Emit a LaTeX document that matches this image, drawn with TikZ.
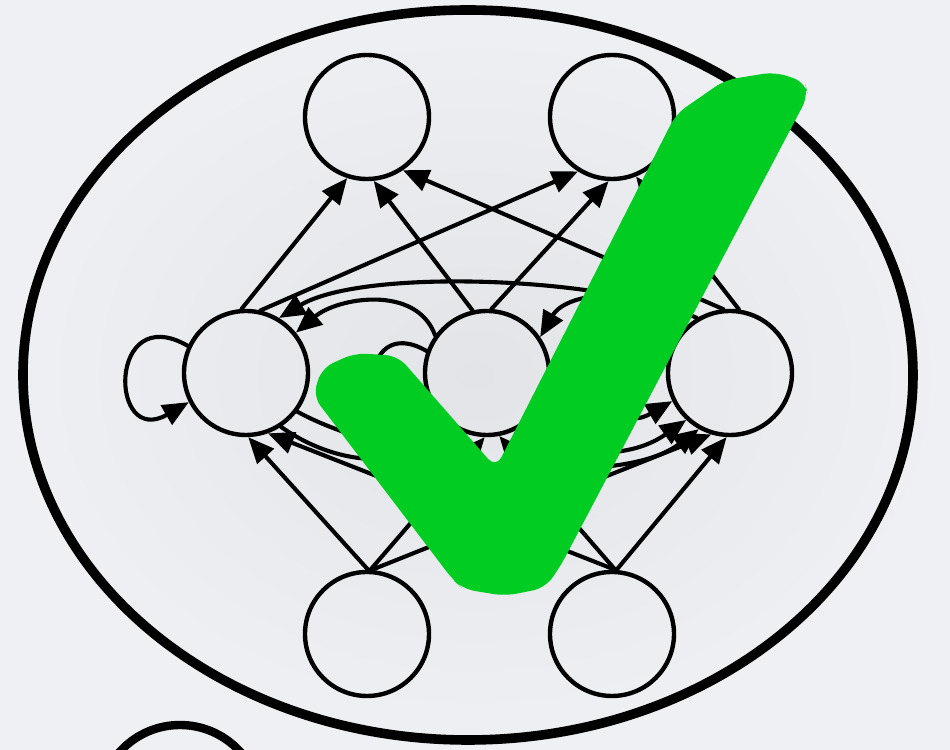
\documentclass[tikz,border=0pt]{standalone}
\usetikzlibrary{arrows.meta}
\definecolor{tickgreen}{RGB}{0,204,34}
\definecolor{bgin}{RGB}{226,228,232}
\definecolor{bgout}{RGB}{238,240,243}
\begin{document}
\begin{tikzpicture}[x=0.5pt,y=0.5pt,line cap=round,line join=round,>={Triangle[length=13pt,width=11pt]},
  neuron/.style={circle,draw,line width=2.2pt,minimum size=62pt,inner sep=0pt},
  link/.style={->,line width=2.05pt}]
  \useasboundingbox (0,0) rectangle (950,750);
  \clip (0,0) rectangle (950,750);
  \shade[inner color=bgin,outer color=bgout] (0,0) rectangle (950,750);
  \draw[line width=4.8pt] (468,375) ellipse[x radius=445,y radius=365];
  % output, hidden and input units
  \node[neuron] (T1) at (367,633) {};
  \node[neuron] (T2) at (612,633) {};
  \node[neuron] (M1) at (246,377) {};
  \node[neuron] (M2) at (487,377) {};
  \node[neuron] (M3) at (730,377) {};
  \node[neuron] (B1) at (367,116) {};
  \node[neuron] (B2) at (612,116) {};
  \foreach \a/\b/\s/\e in {M1/T1/94/252, M2/T1/103/276, M3/T1/96/304,
      M1/T2/77/238, M2/T2/86/267, M3/T2/82/292,
      B1/M1/89/272, B2/M1/87/290, B1/M2/87/268,
      B2/M2/87/281, B1/M3/86/253, B2/M3/86/267} {
    \draw[link] (\a.\s) -- (\b.\e);
  }
  \foreach \n/\s/\e in {M1/155/207, M2/160/205, M3/157/206} {
    \draw[link] (\n.\s) to[out=150,in=210,looseness=4.2] (\n.\e);
  }
  \draw[link] (M3.121) to[out=155,in=31,looseness=0.6] (M1.59);
  \draw[link] (M2.144) to[out=110,in=40] (M1.39);
  \draw[link] (M3.140) to[out=120,in=60] (M2.34);
  \draw[link] (M1.323) to[out=-29,in=217,looseness=0.67] (M3.241);
  \draw[link] (M1.303) to[out=-35,in=210] (M2.245);
  \draw[link] (M2.300) to[out=-30,in=215] (M3.227);
  % tick
  \fill[tickgreen,rounded corners=6pt] (313,354) -- (322,382) -- (355,397) -- (398,394)
    -- (496,282) -- (676,636) -- (725,670) -- (775,678) -- (805,668) -- (808,654)
    -- (560,183) -- (545,162) -- (505,154) -- (463,161) -- (453,170) -- cycle;
  \draw[line width=4.2pt] (180,-56) circle[radius=81];
\end{tikzpicture}
\end{document}
